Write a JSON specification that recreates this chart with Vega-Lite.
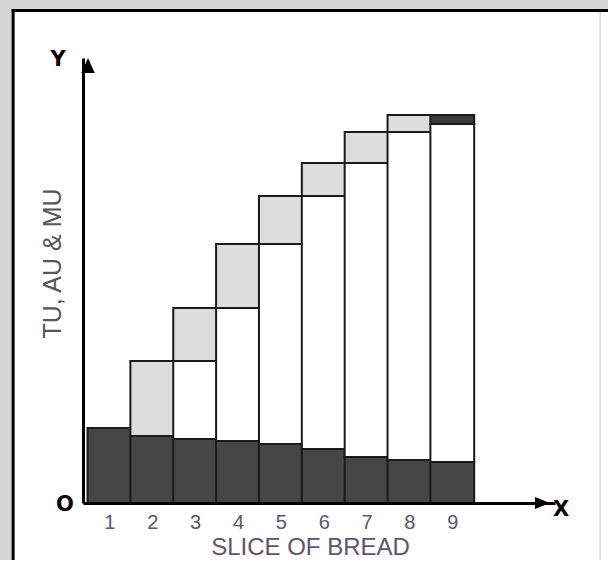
{
  "$schema": "https://vega.github.io/schema/vega-lite/v6.json",
  "width": 472,
  "height": 445,
  "autosize": {"type": "none"},
  "padding": {"left": 83, "top": 58, "right": 53, "bottom": 57},
  "background": "#d6d6d6",
  "config": {"view": {"stroke": null}, "font": "Liberation Sans"},
  "layer": [
    {
      "data": {"values": [{"frame": "panel"}]},
      "mark": {"type": "rect", "fill": "white", "stroke": null, "clip": false},
      "encoding": {
        "x": {"datum": -1.247, "type": "quantitative", "scale": {"domain": [0.5, 11.28], "nice": false, "zero": false}},
        "x2": {"datum": 13.5},
        "y": {"datum": 492.5, "type": "quantitative", "scale": {"domain": [0, 445], "nice": false, "zero": false}},
        "y2": {"datum": -150}
      }
    },
    {
      "data": {"values": [{"edge": "left"}]},
      "mark": {"type": "rule", "color": "black", "strokeWidth": 3, "clip": false},
      "encoding": {
        "x": {"datum": -1.247, "type": "quantitative", "scale": {"domain": [0.5, 11.28], "nice": false, "zero": false}},
        "y": {"datum": 494, "type": "quantitative", "scale": {"domain": [0, 445], "nice": false, "zero": false}},
        "y2": {"datum": -150}
      }
    },
    {
      "data": {"values": [{"edge": "top"}]},
      "mark": {"type": "rule", "color": "black", "strokeWidth": 3, "clip": false},
      "encoding": {
        "x": {"datum": -1.28, "type": "quantitative", "scale": {"domain": [0.5, 11.28], "nice": false, "zero": false}},
        "x2": {"datum": 13.5},
        "y": {"datum": 492.5, "type": "quantitative", "scale": {"domain": [0, 445], "nice": false, "zero": false}}
      }
    },
    {
      "data": {"values": [{"edge": "right"}]},
      "mark": {"type": "rule", "color": "#c8c8c8", "strokeWidth": 1, "clip": false},
      "encoding": {
        "x": {"datum": 12.45, "type": "quantitative", "scale": {"domain": [0.5, 11.28], "nice": false, "zero": false}},
        "y": {"datum": 491, "type": "quantitative", "scale": {"domain": [0, 445], "nice": false, "zero": false}},
        "y2": {"datum": -150}
      }
    },
    {
      "data": {
        "values": [
          {"slice": 1, "part": "AU", "lo": 0, "hi": 75},
          {"slice": 2, "part": "AU", "lo": 0, "hi": 67},
          {"slice": 2, "part": "MU", "lo": 67, "hi": 142},
          {"slice": 3, "part": "AU", "lo": 0, "hi": 64},
          {"slice": 3, "part": "TU (previous)", "lo": 64, "hi": 142},
          {"slice": 3, "part": "MU", "lo": 142, "hi": 195},
          {"slice": 4, "part": "AU", "lo": 0, "hi": 62},
          {"slice": 4, "part": "TU (previous)", "lo": 62, "hi": 195},
          {"slice": 4, "part": "MU", "lo": 195, "hi": 259},
          {"slice": 5, "part": "AU", "lo": 0, "hi": 59},
          {"slice": 5, "part": "TU (previous)", "lo": 59, "hi": 259},
          {"slice": 5, "part": "MU", "lo": 259, "hi": 307},
          {"slice": 6, "part": "AU", "lo": 0, "hi": 54},
          {"slice": 6, "part": "TU (previous)", "lo": 54, "hi": 307},
          {"slice": 6, "part": "MU", "lo": 307, "hi": 340},
          {"slice": 7, "part": "AU", "lo": 0, "hi": 46},
          {"slice": 7, "part": "TU (previous)", "lo": 46, "hi": 340},
          {"slice": 7, "part": "MU", "lo": 340, "hi": 371},
          {"slice": 8, "part": "AU", "lo": 0, "hi": 43},
          {"slice": 8, "part": "TU (previous)", "lo": 43, "hi": 371},
          {"slice": 8, "part": "MU", "lo": 371, "hi": 388},
          {"slice": 9, "part": "AU", "lo": 0, "hi": 41},
          {"slice": 9, "part": "TU (previous)", "lo": 41, "hi": 379},
          {"slice": 9, "part": "MU = 0", "lo": 379, "hi": 388}
        ]
      },
      "mark": {"type": "bar", "width": 43.8, "stroke": "#1a1a1a", "strokeWidth": 2, "opacity": 1},
      "encoding": {
        "x": {
          "field": "slice", "type": "quantitative",
          "scale": {"domain": [0.5, 11.28], "nice": false, "zero": false},
          "axis": {
            "values": [1, 2, 3, 4, 5, 6, 7, 8, 9],
            "ticks": false, "grid": false, "zindex": 1,
            "domainColor": "black", "domainWidth": 3,
            "labelFontSize": 20, "labelColor": "#5c5470", "labelPadding": 9, "labelFont": "Liberation Sans",
            "title": "SLICE OF BREAD", "titleFontSize": 24, "titleFontWeight": "normal",
            "titleColor": "#5c5470", "titlePadding": 3, "titleX": 227, "titleFont": "Liberation Sans"
          }
        },
        "y": {
          "field": "lo", "type": "quantitative",
          "scale": {"domain": [0, 445], "nice": false, "zero": false},
          "axis": {
            "ticks": false, "labels": false, "grid": false, "zindex": 1,
            "domainColor": "black", "domainWidth": 3,
            "title": "TU, AU & MU", "titleFontSize": 25, "titleFontWeight": "normal",
            "titleColor": "#555555", "titlePadding": 18, "titleY": 205, "titleFont": "Liberation Sans"
          }
        },
        "y2": {"field": "hi"},
        "color": {
          "field": "part", "type": "nominal",
          "scale": {"domain": ["AU", "TU (previous)", "MU", "MU = 0"], "range": ["#464646", "#ffffff", "#dcdcdc", "#3a3a3a"]},
          "legend": null
        }
      }
    },
    {
      "data": {"values": [{"arrow": "Y"}]},
      "mark": {"type": "point", "shape": "M0,0L-0.45,1L0.45,1Z", "size": 900, "filled": true, "fill": "black", "stroke": null, "opacity": 1, "clip": false},
      "encoding": {
        "x": {"datum": 0.5, "type": "quantitative", "scale": {"domain": [0.5, 11.28], "nice": false, "zero": false}},
        "y": {"datum": 445, "type": "quantitative", "scale": {"domain": [0, 445], "nice": false, "zero": false}}
      }
    },
    {
      "data": {"values": [{"arrow": "X"}]},
      "mark": {"type": "point", "shape": "M0,0L-1,-0.4L-1,0.4Z", "size": 900, "filled": true, "fill": "black", "stroke": null, "opacity": 1, "clip": false},
      "encoding": {
        "x": {"datum": 11.28, "type": "quantitative", "scale": {"domain": [0.5, 11.28], "nice": false, "zero": false}},
        "y": {"datum": 0, "type": "quantitative", "scale": {"domain": [0, 445], "nice": false, "zero": false}}
      }
    },
    {
      "data": {"values": [{"label": "O"}]},
      "mark": {"type": "text", "text": "O", "font": "DejaVu Sans", "fontWeight": "bold", "fontSize": 21, "fill": "black", "align": "center", "baseline": "middle", "dx": -23, "dy": 2, "clip": false},
      "encoding": {
        "x": {"datum": 0.5, "type": "quantitative", "scale": {"domain": [0.5, 11.28], "nice": false, "zero": false}},
        "y": {"datum": 0, "type": "quantitative", "scale": {"domain": [0, 445], "nice": false, "zero": false}}
      }
    },
    {
      "data": {"values": [{"label": "X"}]},
      "mark": {"type": "text", "text": "X", "font": "DejaVu Sans", "fontWeight": "bold", "fontSize": 21, "fill": "black", "align": "center", "baseline": "middle", "dx": 11, "dy": 7, "clip": false},
      "encoding": {
        "x": {"datum": 11.28, "type": "quantitative", "scale": {"domain": [0.5, 11.28], "nice": false, "zero": false}},
        "y": {"datum": 0, "type": "quantitative", "scale": {"domain": [0, 445], "nice": false, "zero": false}}
      }
    },
    {
      "data": {"values": [{"label": "Y"}]},
      "mark": {"type": "text", "text": "Y", "font": "DejaVu Sans", "fontWeight": "bold", "fontSize": 21, "fill": "black", "align": "center", "baseline": "middle", "dx": -30, "dy": 2, "clip": false},
      "encoding": {
        "x": {"datum": 0.5, "type": "quantitative", "scale": {"domain": [0.5, 11.28], "nice": false, "zero": false}},
        "y": {"datum": 445, "type": "quantitative", "scale": {"domain": [0, 445], "nice": false, "zero": false}}
      }
    }
  ]
}
